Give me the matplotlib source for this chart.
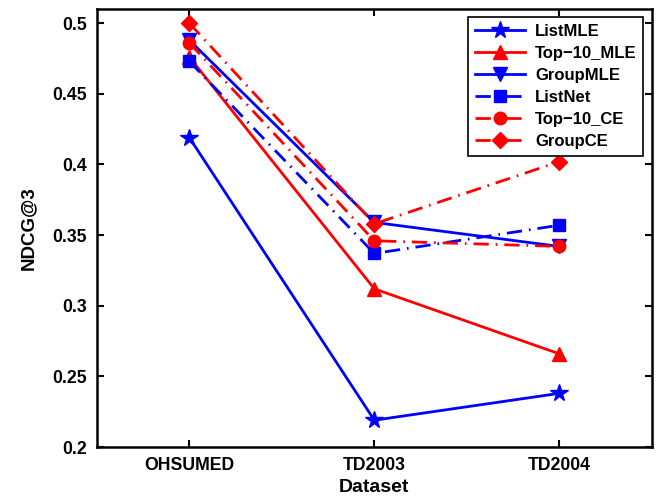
import matplotlib
matplotlib.use("Agg")
import matplotlib.pyplot as plt

datasets = ["OHSUMED", "TD2003", "TD2004"]

list_mle = [0.419, 0.219, 0.238]
top10_mle = [0.476, 0.312, 0.266]
group_mle = [0.488, 0.359, 0.342]
list_net = [0.473, 0.337, 0.357]
top10_ce = [0.486, 0.346, 0.342]
group_ce = [0.500, 0.358, 0.402]

plt.rcParams["font.family"] = ["Liberation Sans", "DejaVu Sans"]
plt.rcParams["font.weight"] = "bold"

fig = plt.figure(figsize=(6.59, 5.04), dpi=100)
ax = fig.add_axes([0.147, 0.113, 0.842, 0.869])

x = [1, 2, 3]
dashdot = (5.5, 2.5, 0.6, 2.5)
lw = 2.0

ax.plot(x, list_mle, color="blue", lw=lw, ls="-", marker="*", ms=13, label="ListMLE")
ax.plot(x, top10_mle, color="red", lw=lw, ls="-", marker="^", ms=10, label="Top\u221210_MLE")
ax.plot(x, group_mle, color="blue", lw=lw, ls="-", marker="v", ms=10, label="GroupMLE")
ax.plot(x, list_net, color="blue", lw=lw, dashes=dashdot, marker="s", ms=8, label="ListNet")
ax.plot(x, top10_ce, color="red", lw=lw, dashes=dashdot, marker="o", ms=9, label="Top\u221210_CE")
ax.plot(x, group_ce, color="red", lw=lw, dashes=dashdot, marker="D", ms=8, label="GroupCE")

ax.set_xlim(0.5, 3.5)
ax.set_ylim(0.2, 0.51)
ax.set_xticks(x)
ax.set_xticklabels(datasets)
ax.set_yticks([0.2, 0.25, 0.3, 0.35, 0.4, 0.45, 0.5])
ax.set_yticklabels(["0.2", "0.25", "0.3", "0.35", "0.4", "0.45", "0.5"])
ax.tick_params(direction="in", top=True, right=True, labelsize=12.7,
               width=1.5, length=5, pad=7)
for s in ax.spines.values():
    s.set_linewidth(1.8)

ax.set_xlabel("Dataset", fontsize=14, fontweight="bold", labelpad=4)
ax.set_ylabel("NDCG@3", fontsize=13.5, fontweight="bold", labelpad=11)

leg = ax.legend(loc="upper right", fontsize=12, fancybox=False, framealpha=1,
                edgecolor="black", handlelength=3.0, handletextpad=0.6,
                borderaxespad=0.5, labelspacing=0.42)
leg.get_frame().set_linewidth(1.2)

fig.savefig("out.png", dpi=100)
